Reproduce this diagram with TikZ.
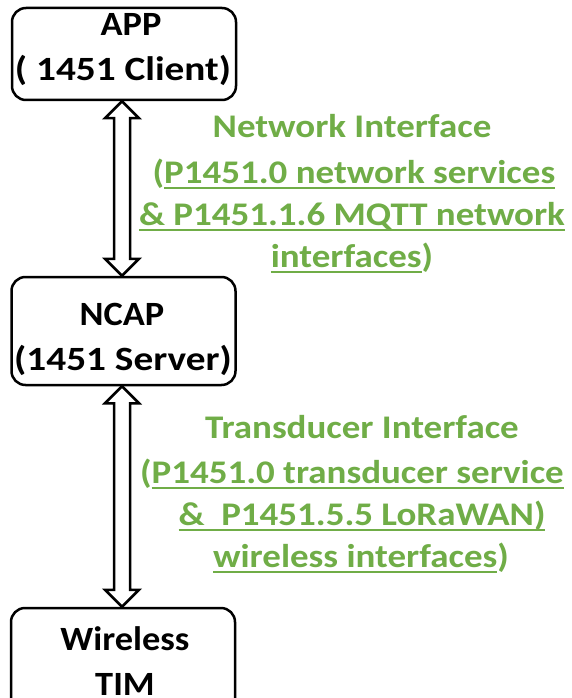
\documentclass[tikz,border=0pt]{standalone}
\usepackage{fontspec}
\setmainfont{Carlito}
\newfontfamily\boxfont{Carlito}[FakeStretch=1.07]
\newfontfamily\boxwidefont{Carlito}[FakeStretch=1.155]
\newfontfamily\notefont{Carlito}[FakeStretch=1.12]
\usetikzlibrary{calc}
\definecolor{ifgreen}{HTML}{70AD47}
% underline drawn as a thick bar below the baseline
\newcommand\ulbar[1]{\setbox0\hbox{#1}\rlap{\color{ifgreen}\rule[-6pt]{\wd0}{2.4pt}}\box0}
% hollow double-headed arrow from the bottom of #1 to the top of #2
\newcommand\hollowlink[2]{%
  \draw[link] let \p1=(#1), \p2=(#2) in
    (\x1,\y1) -- (\x1+17pt,\y1-17pt) -- (\x1+8pt,\y1-17pt) -- (\x1+8pt,\y2+17pt)
    -- (\x1+17pt,\y2+17pt) -- (\x1,\y2) -- (\x1-17pt,\y2+17pt) -- (\x1-8pt,\y2+17pt)
    -- (\x1-8pt,\y1-17pt) -- (\x1-17pt,\y1-17pt) -- cycle;}
\begin{document}
\begin{tikzpicture}[x=1pt,y=-1pt,
  box/.style={draw, line width=2.5pt, rounded corners=14pt, minimum width=224pt, inner sep=0pt},
  boxtext/.style={font=\boxfont\fontsize{34}{40}\selectfont\bfseries, anchor=base, inner sep=0pt},
  boxwide/.style={font=\boxwidefont\fontsize{34}{40}\selectfont\bfseries, anchor=base, inner sep=0pt},
  note/.style={text=ifgreen, font=\notefont\fontsize{33}{40}\selectfont\bfseries, anchor=base, inner sep=0pt},
  link/.style={draw, line width=2.5pt, line join=miter}]
\useasboundingbox (0,0) rectangle (572,698);
\clip (0,0) rectangle (572,698);
\fill[white] (0,0) rectangle (572,698);

% boxes
\node[box, minimum height=92pt] (app) at (124,54) {};
\node[box, minimum height=108pt] (ncap) at (123.5,331) {};
\node[box, minimum height=108pt] (tim) at (123,662) {};

% box texts
\node[boxtext] (appA) at (131,36) {APP};
\node[boxwide] (appB) at (123,81) {( 1451 Client)};
\node[boxtext] (ncapA) at (122,325) {NCAP};
\node[boxwide] (ncapB) at (123,370) {(1451 Server)};
\node[boxtext] (timA) at (125,650) {Wireless};
\node[boxtext] (timB) at (125,695) {TIM};

% interface arrows
\coordinate (a1) at ($(app.south)+(-2,0)$);
\coordinate (a2) at ($(ncap.north)+(-1.5,0)$);
\coordinate (b1) at ($(ncap.south)+(-1.5,0)$);
\coordinate (b2) at ($(tim.north)+(-1,0)$);
\hollowlink{a1}{a2}
\hollowlink{b1}{b2}

% network interface label
\node[note] (net1) at (352,137) {Network Interface};
\node[note] (net2) at (354,183) {(\ulbar{P1451.0 network services}};
\node[note] (net3) at (352,225) {\ulbar{\& P1451.1.6 MQTT network}};
\node[note] (net4) at (352,267) {\ulbar{interfaces})};

% transducer interface label
\node[note] (tr1) at (362,438) {Transducer Interface};
\node[note] (tr2) at (352,483) {(\ulbar{P1451.0 transducer service}};
\node[note] (tr3) at (362,525) {\ulbar{\&\ \ P1451.5.5 LoRaWAN)}};
\node[note] (tr4) at (361,567) {\ulbar{wireless interfaces})};
\end{tikzpicture}
\end{document}
